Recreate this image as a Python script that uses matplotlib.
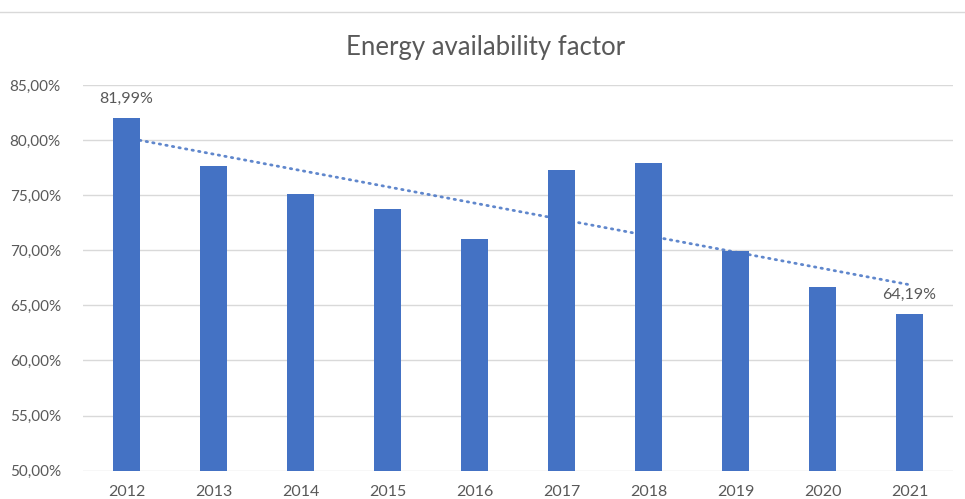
import matplotlib
from matplotlib import pyplot as plt
from matplotlib.lines import Line2D
import numpy as np

matplotlib.use('Agg')

# data
years = ['2012', '2013', '2014', '2015', '2016', '2017', '2018', '2019', '2020', '2021']
availability = [81.99, 77.68, 75.08, 73.72, 71.00, 77.26, 77.95, 69.90, 66.64, 64.19]
labelled = {0: '81,99%', 9: '64,19%'}
y_ticks = [50, 55, 60, 65, 70, 75, 80, 85]

bar_color = '#4472C4'
text_color = '#595959'
grid_color = '#D9D9D9'

plt.rcParams['font.family'] = ['Lato', 'DejaVu Sans']

fig = plt.figure(figsize=(9.65, 4.99), dpi=100)
ax = fig.add_axes([0.086, 0.0567, 0.9016, 0.773])

x = np.arange(len(years))
ax.bar(x, availability, width=0.31, bottom=0, color=bar_color, zorder=2)

# linear trendline (Excel style, dotted)
slope, intercept = np.polyfit(x, availability, 1)
ax.plot(x, slope * x + intercept, color=bar_color, lw=2, alpha=0.85,
        linestyle=(0, (0.5, 1.9)), dash_capstyle='round', zorder=3)

# data labels on first and last bar
for i, txt in labelled.items():
    ax.text(x[i], availability[i] + 1.1, txt, ha='center', va='bottom',
            fontsize=11.5, color=text_color)

ax.set_ylim(50, 85)
ax.set_xlim(-0.5, len(years) - 0.5)
ax.set_yticks(y_ticks)
ax.set_yticklabels([f'{t},00%' for t in y_ticks])
ax.set_xticks(x)
ax.set_xticklabels(years)
ax.tick_params(axis='both', length=0, labelcolor=text_color)
ax.tick_params(axis='y', pad=16, labelsize=11)
ax.tick_params(axis='x', pad=10, labelsize=11.5)
ax.yaxis.grid(True, color=grid_color, lw=1)
ax.set_axisbelow(True)
for s in ax.spines.values():
    s.set_visible(False)

fig.text(0.503, 0.905, 'Energy availability factor', ha='center', va='center',
         fontsize=18.5, color=text_color)

# top border of the chart frame
fig.add_artist(Line2D([0, 1], [1 - 11.5 / 499, 1 - 11.5 / 499], color=grid_color, lw=1))

fig.savefig('out.png', dpi=100)
